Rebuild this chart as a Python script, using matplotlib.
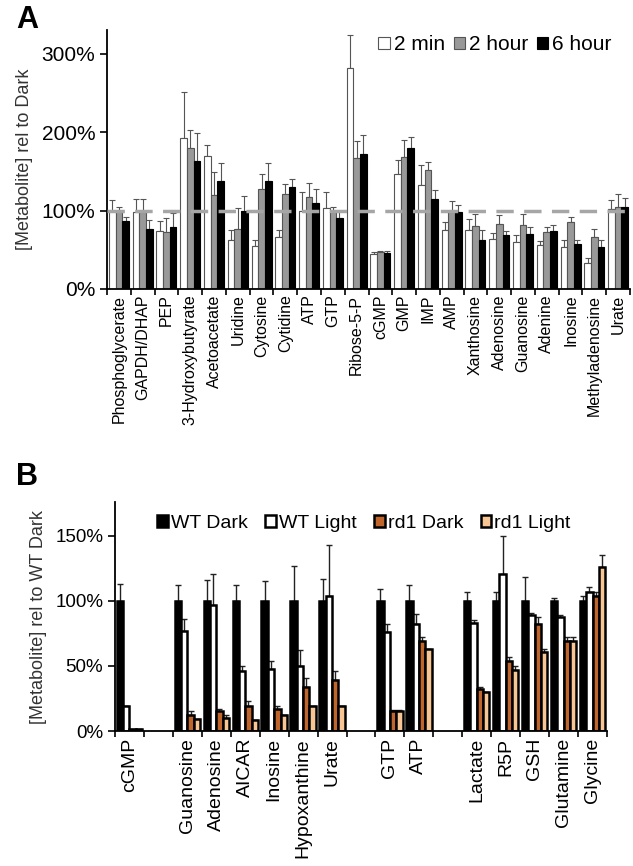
import numpy as np
import matplotlib
matplotlib.use("Agg")
import matplotlib.pyplot as plt
from matplotlib.ticker import FuncFormatter, FixedLocator

plt.rcParams['font.family'] = ['Liberation Sans', 'DejaVu Sans']

# ---------------- Panel A data ----------------
cats_a = ["Phosphoglycerate", "GAPDH/DHAP", "PEP", "3-Hydroxybutyrate", "Acetoacetate",
          "Uridine", "Cytosine", "Cytidine", "ATP", "GTP", "Ribose-5-P", "cGMP", "GMP",
          "IMP", "AMP", "Xanthosine", "Adenosine", "Guanosine", "Adenine", "Inosine",
          "Methyladenosine", "Urate"]
min2 = [100, 98, 74, 193, 169, 62, 55, 66, 100, 103, 281, 44, 146, 133, 75, 75, 64, 60, 56, 54, 33, 102]
min2_err = [13, 17, 13, 58, 15, 13, 8, 9, 24, 20, 42, 3, 19, 25, 11, 14, 7, 9, 5, 9, 6, 11]
hr2 = [99, 98, 72, 180, 120, 76, 127, 121, 117, 98, 167, 47, 168, 151, 98, 80, 83, 81, 73, 86, 66, 105]
hr2_err = [6, 17, 18, 22, 29, 27, 19, 13, 18, 7, 22, 2, 22, 11, 14, 16, 11, 15, 6, 6, 10, 16]
hr6 = [87, 76, 79, 163, 138, 100, 138, 130, 110, 91, 172, 46, 180, 115, 98, 62, 69, 70, 74, 57, 54, 105]
hr6_err = [5, 12, 18, 36, 22, 19, 22, 10, 17, 9, 24, 2, 14, 11, 9, 13, 5, 9, 7, 6, 8, 11]
legend_a = ["2 min", "2 hour", "6 hour"]

# ---------------- Panel B data ----------------
cats_b = ["cGMP", "", "Guanosine", "Adenosine", "AICAR", "Inosine", "Hypoxanthine", "Urate",
          "", "GTP", "ATP", "", "Lactate", "R5P", "GSH", "Glutamine", "Glycine"]
nan = np.nan
wt_dark = [100, nan, 100, 100, 100, 100, 100, 100, nan, 100, 100, nan, 100, 100, 100, 100, 100]
wt_dark_err = [13, nan, 12, 16, 12, 15, 27, 17, nan, 9, 12, nan, 7, 7, 18, 2, 4]
wt_light = [19.5, nan, 77, 97, 46, 48, 50, 104, nan, 76, 82, nan, 83, 121, 89, 88, 107]
wt_light_err = [0, nan, 9, 24, 4, 6, 12, 39, nan, 6, 8, nan, 2, 29, 2, 1, 4]
rd1_dark = [1.5, nan, 12, 15.5, 19, 17, 33.5, 39, nan, 15, 69.5, nan, 32, 54, 82, 69, 104]
rd1_dark_err = [0, nan, 3, 1.5, 4, 2, 7, 7, nan, 1.5, 2.5, nan, 2, 2.5, 6, 3, 3]
rd1_light = [1.5, nan, 9, 10, 8.4, 12, 19, 19, nan, 15, 63, nan, 30, 46.7, 61, 69, 126]
rd1_light_err = [0, nan, 0, 2, 0, 0, 0, 0, nan, 1.5, 0, nan, 0, 3, 2, 3, 9]
legend_b = ["WT Dark", "WT Light", "rd1 Dark", "rd1 Light"]

fig = plt.figure(figsize=(6.33, 8.66), dpi=100)

# ================= Panel A =================
axA = fig.add_axes([107/633, 1-289/866, (630-107)/633, (289-30)/866])
n = len(cats_a)
x = np.arange(n)
w = 0.28
styles_a = [dict(color="white", edgecolor="#555555"),
            dict(color="#999999", edgecolor="#555555"),
            dict(color="black", edgecolor="black")]
series_a = [(min2, min2_err), (hr2, hr2_err), (hr6, hr6_err)]
handles = []
for i, ((v, e), st) in enumerate(zip(series_a, styles_a)):
    pos = x + (i - 1) * w
    b = axA.bar(pos, v, width=w, linewidth=0.8, zorder=2, **st)
    axA.errorbar(pos, v, yerr=[np.zeros(n), e], fmt="none", ecolor="#555555",
                 elinewidth=0.8, capsize=2.2, capthick=0.8, zorder=1)
    handles.append(b)
axA.axhline(100, color="#a6a6a6", lw=2.5, ls=(0, (5, 3)), zorder=3)
axA.set_xlim(-0.5, n - 0.5)
axA.set_ylim(0, 330)
axA.set_yticks([0, 100, 200, 300])
axA.yaxis.set_major_formatter(FuncFormatter(lambda v, p: f"{int(v)}%"))
axA.xaxis.set_major_locator(FixedLocator(np.arange(n + 1) - 0.5))
axA.set_xticklabels([], minor=False)
axA.set_xticks(x, minor=True)
axA.set_xticklabels(cats_a, minor=True, rotation=90, fontsize=11.5)
axA.tick_params(axis="x", which="minor", length=0, pad=4)
axA.tick_params(axis="x", which="major", length=4, width=1.2, direction="out")
axA.tick_params(axis="y", length=5, width=1.2, labelsize=15)
for s in ["top", "right"]:
    axA.spines[s].set_visible(False)
axA.spines["left"].set_linewidth(1.3)
axA.spines["bottom"].set_linewidth(1.3)
axA.set_ylabel("[Metabolite] rel to Dark", fontsize=13, color="#333333", labelpad=6)
axA.legend(handles, legend_a, loc="upper right", ncol=3, frameon=False, fontsize=15,
           handlelength=0.55, handleheight=0.55, handletextpad=0.2, columnspacing=0.4,
           borderaxespad=0.1, bbox_to_anchor=(0.985, 1.02))
fig.text(16/633, 1-20/866, "A", fontsize=22, fontweight="bold", va="center", ha="left")

# ================= Panel B =================
axB = fig.add_axes([115/633, 1-731/866, (607-115)/633, (731-502)/866])
m = len(cats_b)
xb = np.arange(m)
wb = 0.22
styles_b = [dict(color="black", edgecolor="black"),
            dict(color="white", edgecolor="black"),
            dict(color="#c0652b", edgecolor="black"),
            dict(color="#f8c594", edgecolor="black")]
series_b = [(wt_dark, wt_dark_err), (wt_light, wt_light_err),
            (rd1_dark, rd1_dark_err), (rd1_light, rd1_light_err)]
hb = []
for i, ((v, e), st) in enumerate(zip(series_b, styles_b)):
    v = np.array(v, float)
    e = np.array(e, float)
    pos = xb + (i - 1.5) * wb
    ok = ~np.isnan(v)
    b = axB.bar(pos[ok], v[ok], width=wb, linewidth=1.8, zorder=2, **st)
    axB.errorbar(pos[ok], v[ok], yerr=[np.zeros(ok.sum()), e[ok]], fmt="none",
                 ecolor="#222222", elinewidth=1.0, capsize=2.2, capthick=1.0, zorder=1)
    hb.append(b)
axB.set_xlim(-0.5, m - 0.5)
axB.set_ylim(0, 176)
axB.set_yticks([0, 50, 100, 150])
axB.yaxis.set_major_formatter(FuncFormatter(lambda v, p: f"{int(v)}%"))
axB.xaxis.set_major_locator(FixedLocator(np.arange(m + 1) - 0.5))
axB.set_xticklabels([], minor=False)
axB.set_xticks(xb, minor=True)
axB.set_xticklabels(cats_b, minor=True, rotation=90, fontsize=14)
axB.tick_params(axis="x", which="minor", length=0, pad=5)
axB.tick_params(axis="x", which="major", length=4, width=1.2, direction="out")
axB.tick_params(axis="y", length=5, width=1.2, labelsize=13.5)
for s in ["top", "right"]:
    axB.spines[s].set_visible(False)
axB.spines["left"].set_linewidth(1.3)
axB.spines["bottom"].set_linewidth(1.3)
axB.set_ylabel("[Metabolite] rel to WT Dark", fontsize=13, color="#333333", labelpad=6)
axB.legend(hb, legend_b, loc="upper left", ncol=4, frameon=False, fontsize=14,
           handlelength=0.55, handleheight=0.55, handletextpad=0.15, columnspacing=0.9,
           bbox_to_anchor=(0.05, 1.02))
fig.text(16/633, 1-477/866, "B", fontsize=22, fontweight="bold", va="center", ha="left")

fig.savefig("out.png", dpi=100)
